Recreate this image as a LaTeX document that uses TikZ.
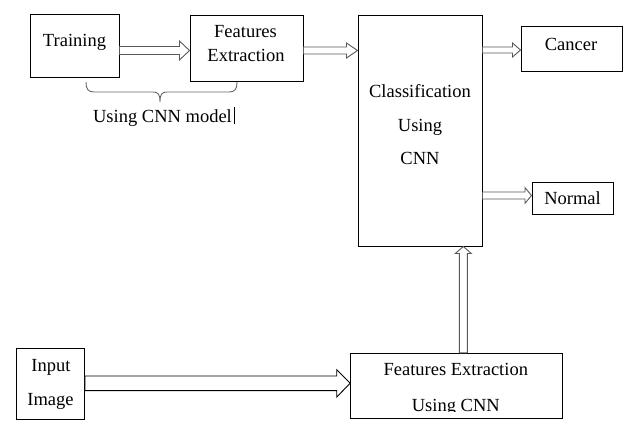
\documentclass[tikz,border=0pt]{standalone}
\usepackage{fontspec}
\setmainfont{Liberation Serif}
\usetikzlibrary{calc}
\tikzset{
  box/.style={draw=black, line width=1pt, inner sep=0pt, fill=white},
  lbl/.style={inner sep=0pt, anchor=base, font=\fontsize{18.5}{22}\selectfont},
  barrow/.style={draw=black!65, line width=0.9pt, fill=white, line join=miter},
  bigarrow/.style={draw=black, line width=0.9pt, fill=white, line join=miter},
  brace/.style={draw=black!60, line width=0.9pt}
}
\newcommand\harrow[6]{\draw[#6] ($(#1)+(0,-#3)$) -- ($(#2)+(-#5,-#3)$) -- ($(#2)+(-#5,-#4)$) -- (#2) -- ($(#2)+(-#5,#4)$) -- ($(#2)+(-#5,#3)$) -- ($(#1)+(0,#3)$) -- cycle;}
\newcommand\varrow[6]{\draw[#6] ($(#1)+(-#3,0)$) -- ($(#2)+(-#3,#5)$) -- ($(#2)+(-#4,#5)$) -- (#2) -- ($(#2)+(#4,#5)$) -- ($(#2)+(#3,#5)$) -- ($(#1)+(#3,0)$) -- cycle;}
\begin{document}
\begin{tikzpicture}[x=1pt,y=-1pt]
\useasboundingbox (0,0) rectangle (634,444);
% boxes
\node[box, minimum width=89pt, minimum height=62pt] (train) at (74.5,46) {};
\node[box, minimum width=113pt, minimum height=65pt] (fe1) at (246.5,48.5) {};
\node[box, minimum width=124pt, minimum height=230pt] (cls) at (420,131) {};
\node[box, minimum width=101pt, minimum height=44pt] (cancer) at (571.5,49) {};
\node[box, minimum width=81pt, minimum height=32pt] (normal) at (572.5,198) {};
\node[box, minimum width=67.6pt, minimum height=71pt] (input) at (50.5,383.8) {};
\node[box, minimum width=211.6pt, minimum height=65pt] (fe2) at (456.5,385.8) {};
% labels
\node[lbl] (tTrain) at (74.5,47) {Training};
\node[lbl] (tFe1a) at (245.5,37.5) {Features};
\node[lbl] (tFe1b) at (246,61) {Extraction};
\node[lbl] (tCls1) at (420,97.5) {Classification};
\node[lbl] (tCls2) at (420,131.5) {Using};
\node[lbl] (tCls3) at (420,164) {CNN};
\node[lbl] (tCancer) at (571,50.5) {Cancer};
\node[lbl] (tNormal) at (572.5,204) {Normal};
\node[lbl] (tIn1) at (51,371.7) {Input};
\node[lbl] (tIn2) at (50.5,405) {Image};
\node[lbl] (tFe2a) at (455.8,375.7) {Features Extraction};
\coordinate (clipTL) at (350,353);
\coordinate (clipBR) at (563,411.3);
\begin{scope}
\clip (clipTL) rectangle (clipBR);
\node[lbl] (tFe2b) at (455.8,411.5) {Using CNN};
\end{scope}
\node[lbl] (tUse) at (162.5,122) {Using CNN model};
% cursor
\coordinate (cur1) at (234,107);
\coordinate (cur2) at (234,124);
\draw[line width=0.8pt] (cur1) -- (cur2);
% brace
\coordinate (brL) at (86,82);
\coordinate (brM) at (160,102);
\coordinate (brR) at (237,82);
\draw[brace] (brL) .. controls (86,89) and (88,92) .. (94,92) -- (153,92)
  .. controls (158,92) and (160,94) .. (brM)
  .. controls (160,94) and (162,92) .. (167,92) -- (229,92)
  .. controls (235,92) and (237,89) .. (brR);
% arrow anchor coordinates
\coordinate (y1) at (0,50.5);
\coordinate (y2) at (0,50.5);
\coordinate (y3) at (0,50);
\coordinate (y4) at (0,195.5);
\coordinate (y5) at (0,383.3);
\coordinate (x6) at (463.3,0);
\coordinate (a1s) at (train.east |- y1);
\coordinate (a1e) at (fe1.west |- y1);
\coordinate (a2s) at (fe1.east |- y2);
\coordinate (a2e) at (cls.west |- y2);
\coordinate (a3s) at (cls.east |- y3);
\coordinate (a3e) at (cancer.west |- y3);
\coordinate (a4s) at (cls.east |- y4);
\coordinate (a4e) at (normal.west |- y4);
\coordinate (a5s) at (input.east |- y5);
\coordinate (a5e) at (fe2.west |- y5);
\coordinate (a6s) at (x6 |- fe2.north);
\coordinate (a6e) at (x6 |- cls.south);
\harrow{a1s}{a1e}{4}{9.5}{10}{barrow}
\harrow{a2s}{a2e}{3.5}{7.5}{11}{barrow}
\harrow{a3s}{a3e}{3}{7}{8}{barrow}
\harrow{a4s}{a4e}{3.5}{7.8}{6.5}{barrow}
\harrow{a5s}{a5e}{7.3}{13.7}{13.5}{bigarrow}
\varrow{a6s}{a6e}{4}{8}{7}{barrow}
\end{tikzpicture}
\end{document}
